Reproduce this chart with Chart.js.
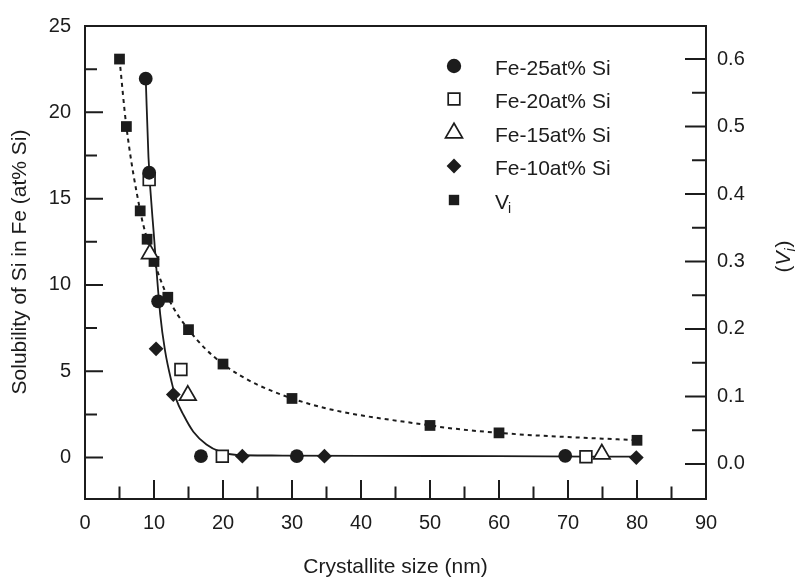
<!DOCTYPE html>
<html>
<head>
<meta charset="utf-8">
<script src="https://cdn.jsdelivr.net/npm/chart.js@4.4.0/dist/chart.umd.min.js"></script>
<style>
  body { margin: 0; background: #fff; }
  #wrap { width: 796px; height: 577px; }
</style>
</head>
<body>
<div id="wrap"><canvas id="chart" width="796" height="577"></canvas></div>
<script>
// values: crystallite size (nm) vs solubility (at% Si)
const fe25X = [8.8, 9.3, 10.6, 16.8, 30.7, 69.6]
const fe25Y = [21.95, 16.5, 9.05, 0.08, 0.08, 0.1]
const fe20X = [9.3, 13.9, 19.9, 72.6]
const fe20Y = [16.1, 5.1, 0.08, 0.05]
const fe15X = [9.4, 14.9, 74.9]
const fe15Y = [11.8, 3.6, 0.2]
const fe10X = [10.3, 12.8, 22.8, 34.7, 79.9]
const fe10Y = [6.3, 3.65, 0.08, 0.08, 0.0]
// Vi, plotted on the right axis
const viX = [5, 6, 8, 9, 10, 12, 15, 20, 30, 50, 60, 80]
const viY = [0.6, 0.5, 0.375, 0.333, 0.30, 0.247, 0.199, 0.148, 0.097, 0.057, 0.046, 0.035]
// solid guide curve
const fitX = [8.8, 9.2, 10.0, 10.9, 11.6, 12.6, 13.2, 14.3, 15.7, 17.6, 19.6, 22, 27, 40, 60, 80]
const fitY = [22, 17.4, 12.8, 8.3, 6.2, 4.3, 3.4, 2.45, 1.5, 0.76, 0.34, 0.15, 0.12, 0.1, 0.08, 0.05]

// ticks
const xTicks = [0, 10, 20, 30, 40, 50, 60, 70, 80, 90]
const xMinor = [5, 15, 25, 35, 45, 55, 65, 75, 85]
const yTicks = [0, 5, 10, 15, 20, 25]
const yMinor = [2.5, 7.5, 12.5, 17.5, 22.5]
const y1Ticks = [0, 0.1, 0.2, 0.3, 0.4, 0.5, 0.6]
const y1Minor = [0.05, 0.15, 0.25, 0.35, 0.45, 0.55]

const legendNames = ['Fe-25at% Si', 'Fe-20at% Si', 'Fe-15at% Si', 'Fe-10at% Si', 'V']

const ink = '#1c1c1c'
const FONT = '"Liberation Sans", Arial, Helvetica, sans-serif'

function pts(xs, ys) {
  return xs.map((x, i) => ({ x: x, y: ys[i] }))
}

// small marker painter for the legend
function marker(ctx, kind, x, y) {
  ctx.save()
  ctx.fillStyle = ink
  ctx.strokeStyle = ink
  ctx.lineWidth = 1.7
  ctx.beginPath()
  if (kind == 'circle') {
    ctx.arc(x, y, 7.2, 0, Math.PI * 2)
    ctx.fill()
  } else if (kind == 'open-rect') {
    ctx.fillStyle = '#fff'
    ctx.rect(x - 5.8, y - 5.8, 11.6, 11.6)
    ctx.fill(); ctx.stroke()
  } else if (kind == 'triangle') {
    let r = 9.8
    ctx.moveTo(x, y - r)
    ctx.lineTo(x + r * Math.cos(Math.PI / 6), y + r / 2)
    ctx.lineTo(x - r * Math.cos(Math.PI / 6), y + r / 2)
    ctx.closePath()
    ctx.fillStyle = '#fff'
    ctx.fill(); ctx.stroke()
  } else if (kind == 'diamond') {
    let r = 7.4
    ctx.moveTo(x, y - r); ctx.lineTo(x + r, y); ctx.lineTo(x, y + r); ctx.lineTo(x - r, y)
    ctx.closePath()
    ctx.fill()
  } else {
    ctx.rect(x - 5.2, y - 5.2, 10.4, 10.4)
    ctx.fill()
  }
  ctx.restore()
}

const decor = {
  id: 'decor',
  afterDraw(chart) {
    const ctx = chart.ctx
    const a = chart.chartArea
    const sx = chart.scales.x, sy = chart.scales.y, sy1 = chart.scales.y1
    ctx.save()
    ctx.strokeStyle = ink
    ctx.lineWidth = 2
    ctx.strokeRect(a.left, a.top, a.right - a.left, a.bottom - a.top)

    // inward tick marks
    ctx.beginPath()
    xTicks.forEach(v => { let p = sx.getPixelForValue(v); ctx.moveTo(p, a.bottom); ctx.lineTo(p, a.bottom - 19) })
    xMinor.forEach(v => { let p = sx.getPixelForValue(v); ctx.moveTo(p, a.bottom); ctx.lineTo(p, a.bottom - 12.5) })
    yTicks.forEach(v => { let p = sy.getPixelForValue(v); ctx.moveTo(a.left, p); ctx.lineTo(a.left + 18, p) })
    yMinor.forEach(v => { let p = sy.getPixelForValue(v); ctx.moveTo(a.left, p); ctx.lineTo(a.left + 12, p) })
    y1Ticks.forEach(v => { let p = sy1.getPixelForValue(v); ctx.moveTo(a.right, p); ctx.lineTo(a.right - 21, p) })
    y1Minor.forEach(v => { let p = sy1.getPixelForValue(v); ctx.moveTo(a.right, p); ctx.lineTo(a.right - 14, p) })
    ctx.stroke()

    // axis titles
    ctx.fillStyle = ink
    ctx.font = '21px ' + FONT
    ctx.textAlign = 'center'
    ctx.textBaseline = 'alphabetic'
    ctx.fillText('Crystallite size (nm)', (a.left + a.right) / 2, 573)

    ctx.save()
    ctx.translate(26, 262)
    ctx.rotate(-Math.PI / 2)
    ctx.fillText('Solubility of Si in Fe (at% Si)', 0, 0)
    ctx.restore()

    // right title: (V_i) with italic V
    ctx.save()
    ctx.translate(790, 257)
    ctx.rotate(-Math.PI / 2)
    ctx.textAlign = 'left'
    let f1 = '21px ' + FONT, fi = 'italic 21px ' + FONT, fs = 'italic 14px ' + FONT
    ctx.font = f1; let w1 = ctx.measureText('(').width, w4 = ctx.measureText(')').width
    ctx.font = fi; let w2 = ctx.measureText('V').width
    ctx.font = fs; let w3 = ctx.measureText('i').width
    let x0 = -(w1 + w2 + w3 + w4) / 2
    ctx.font = f1; ctx.fillText('(', x0, 0)
    ctx.font = fi; ctx.fillText('V', x0 + w1, 0)
    ctx.font = fs; ctx.fillText('i', x0 + w1 + w2, 5)
    ctx.font = f1; ctx.fillText(')', x0 + w1 + w2 + w3 + 1, 0)
    ctx.restore()

    // legend
    const kinds = ['circle', 'open-rect', 'triangle', 'diamond', 'rect']
    const rowY = [66, 99, 133, 166, 200]
    ctx.textAlign = 'left'
    ctx.font = '21px ' + FONT
    for (let i = 0; i < kinds.length; i++) {
      marker(ctx, kinds[i], 454, rowY[i])
      ctx.fillStyle = ink
      ctx.font = '21px ' + FONT
      ctx.fillText(legendNames[i], 495, rowY[i] + 8.5)
    }
    ctx.font = '14px ' + FONT
    ctx.fillText('i', 495 + 13, rowY[4] + 13)
    ctx.restore()
  }
}

const tickFont = { family: FONT, size: 20 }

new Chart(document.getElementById('chart'), {
  type: 'scatter',
  data: {
    datasets: [
      { label: legendNames[0], data: pts(fe25X, fe25Y), pointStyle: 'circle', pointRadius: 6.9,
        backgroundColor: ink, borderColor: ink, borderWidth: 0 },
      { label: legendNames[1], data: pts(fe20X, fe20Y), pointStyle: 'rect', pointRadius: 8.3,
        backgroundColor: '#fff', borderColor: ink, borderWidth: 1.7 },
      { label: legendNames[2], data: pts(fe15X, fe15Y), pointStyle: 'triangle', pointRadius: 9.6,
        backgroundColor: '#fff', borderColor: ink, borderWidth: 1.7 },
      { label: legendNames[3], data: pts(fe10X, fe10Y), pointStyle: 'rectRot', pointRadius: 7.4,
        backgroundColor: ink, borderColor: ink, borderWidth: 0 },
      { label: 'Vi', data: pts(viX, viY), yAxisID: 'y1', showLine: true,
        pointStyle: 'rect', pointRadius: 7.6, pointBackgroundColor: ink, pointBorderWidth: 0,
        borderColor: ink, borderWidth: 2, borderDash: [4, 4], cubicInterpolationMode: 'monotone' },
      { label: 'fit', data: pts(fitX, fitY), showLine: true, pointRadius: 0,
        borderColor: ink, borderWidth: 1.8, cubicInterpolationMode: 'monotone' }
    ]
  },
  options: {
    responsive: false,
    animation: false,
    events: [],
    layout: { padding: { top: 16, left: 0, right: 0, bottom: 0 } },
    plugins: { legend: { display: false }, tooltip: { enabled: false } },
    scales: {
      x: {
        type: 'linear', position: 'bottom', min: 0, max: 90,
        afterBuildTicks: s => { s.ticks = xTicks.map(v => ({ value: v })) },
        afterFit: s => { s.height = 78 },
        grid: { display: false, drawTicks: false },
        border: { display: false },
        ticks: { font: tickFont, color: ink, padding: 12, autoSkip: false, maxRotation: 0 }
      },
      y: {
        type: 'linear', position: 'left', min: -2.4, max: 25,
        afterBuildTicks: s => { s.ticks = yTicks.map(v => ({ value: v })) },
        afterFit: s => { s.width = 85 },
        grid: { display: false, drawTicks: false },
        border: { display: false },
        ticks: { font: tickFont, color: ink, padding: 14 }
      },
      y1: {
        type: 'linear', position: 'right', min: -0.052, max: 0.649,
        afterBuildTicks: s => { s.ticks = y1Ticks.map(v => ({ value: v })) },
        afterFit: s => { s.width = 90 },
        grid: { display: false, drawTicks: false },
        border: { display: false },
        ticks: { font: tickFont, color: ink, padding: 11, callback: v => v.toFixed(1) }
      }
    }
  },
  plugins: [decor]
})
</script>
</body>
</html>
